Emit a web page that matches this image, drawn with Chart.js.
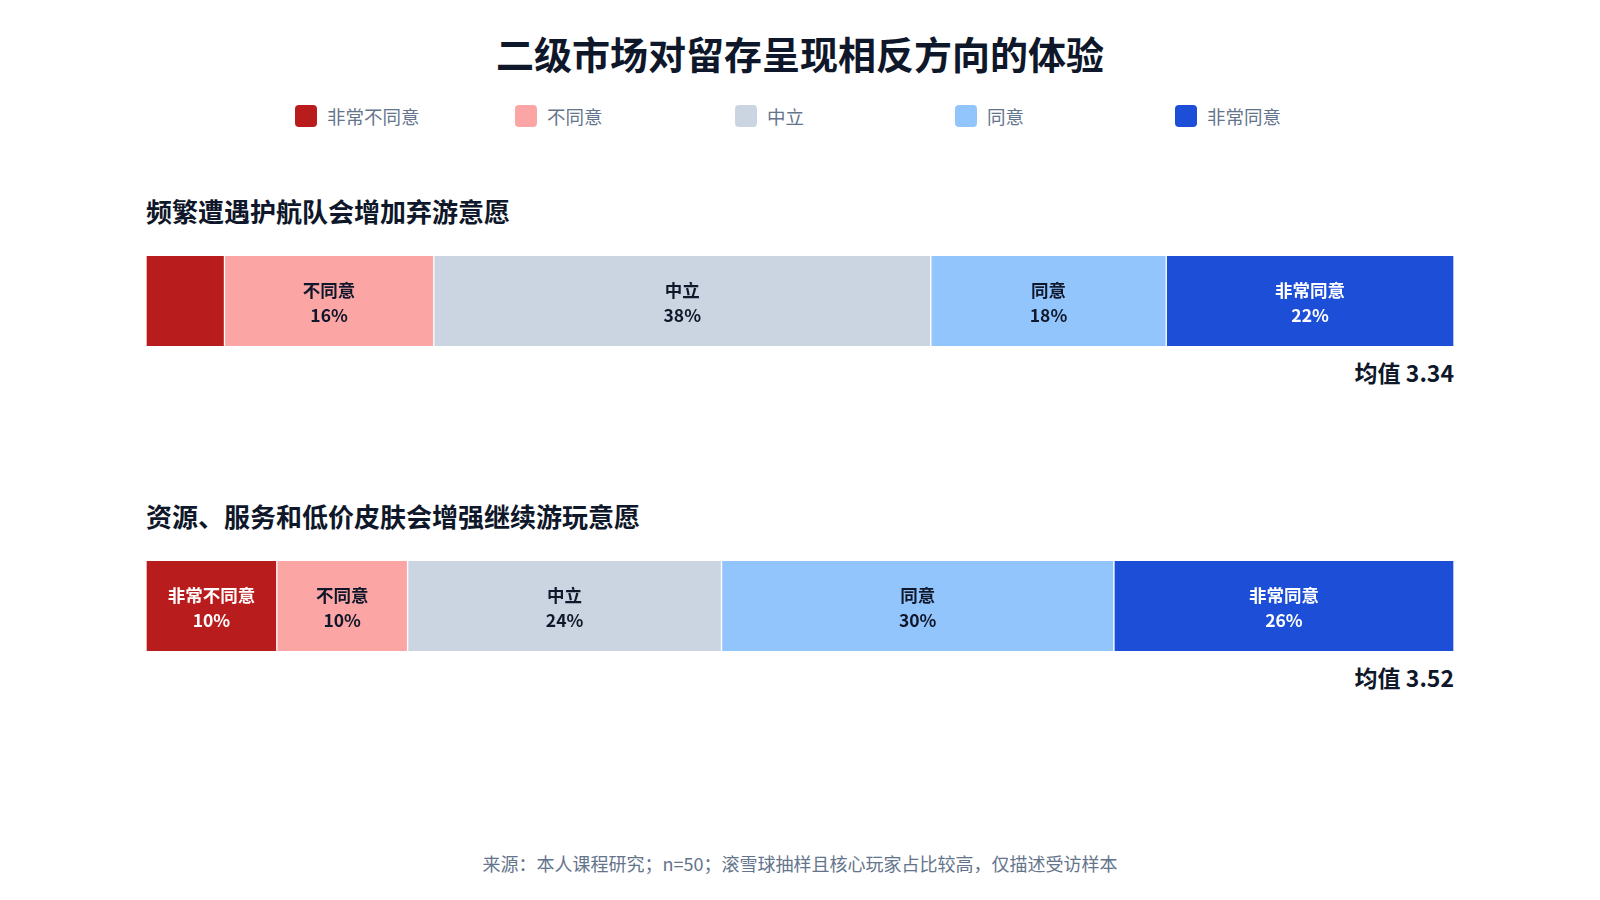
<!DOCTYPE html>
<html><head><meta charset="utf-8">
<script src="https://cdn.jsdelivr.net/npm/chart.js@4/dist/chart.umd.min.js"></script>
<style>
body{margin:0;width:1600px;height:900px;background:#fff;font-family:"Noto Sans CJK SC","Noto Sans",sans-serif;position:relative;overflow:hidden}
.abs{position:absolute}
#title{top:25px;left:0;width:1600px;text-align:center;font-size:38px;font-weight:700;color:#0f172a}
#legend{top:103px;left:295px;display:flex;font-size:18.5px;color:#64748b}
#legend span{display:flex;align-items:center;width:220px}
#legend i{display:inline-block;width:22px;height:22px;border-radius:4px;margin-right:10px}
.sub{left:146px;font-size:26px;font-weight:700;color:#0f172a}
.mean{left:146px;width:1308px;text-align:right;font-size:23px;font-weight:700;color:#0f172a}
.bar{left:146px;width:1308px;height:90px}
#foot{top:850px;left:0;width:1600px;text-align:center;font-size:18px;color:#64748b}
</style></head><body>
<div id="title" class="abs">二级市场对留存呈现相反方向的体验</div>
<div id="legend" class="abs"></div>
<div class="abs sub" style="top:192px">频繁遭遇护航队会增加弃游意愿</div>
<div class="abs bar" style="top:256px"><canvas id="c1"></canvas></div>
<div class="abs mean" style="top:355px">均值 3.34</div>
<div class="abs sub" style="top:497px">资源、服务和低价皮肤会增强继续游玩意愿</div>
<div class="abs bar" style="top:561px"><canvas id="c2"></canvas></div>
<div class="abs mean" style="top:660px">均值 3.52</div>
<div id="foot" class="abs">来源：本人课程研究；n=50；滚雪球抽样且核心玩家占比较高，仅描述受访样本</div>
<script>
const categories = ["非常不同意", "不同意", "中立", "同意", "非常同意"];
const colors = ["#b91c1c", "#fca5a5", "#cbd5e1", "#93c5fd", "#1d4ed8"];
const textColors = ["#ffffff", "#0f172a", "#0f172a", "#0f172a", "#ffffff"];
const series1 = [6, 16, 38, 18, 22];
const series2 = [10, 10, 24, 30, 26];

const lg = document.getElementById("legend");
categories.forEach((c, i) => {
  lg.innerHTML += `<span><i style="background:${colors[i]}"></i>${c}</span>`;
});

const segLabels = {
  id: "segLabels",
  afterDatasetsDraw(chart) {
    const ctx = chart.ctx;
    ctx.save();
    ctx.textAlign = "center";
    ctx.font = "bold 17.5px 'Noto Sans CJK SC'";
    chart.data.datasets.forEach((ds, i) => {
      const el = chart.getDatasetMeta(i).data[0];
      const w = Math.abs(el.x - el.base);
      if (w < 90) return;
      const cx = (el.x + el.base) / 2;
      ctx.fillStyle = textColors[i];
      ctx.fillText(ds.label, cx, el.y - 4);
      ctx.fillText(ds.data[0] + "%", cx, el.y + 21);
    });
    ctx.restore();
  }
};

function makeChart(id, values) {
  new Chart(document.getElementById(id), {
    type: "bar",
    data: {
      labels: [""],
      datasets: categories.map((c, i) => ({
        label: c, data: [values[i]], backgroundColor: colors[i],
        borderColor: "#ffffff", borderWidth: {left: 1, right: 1}, borderSkipped: false,
        barPercentage: 1, categoryPercentage: 1
      }))
    },
    options: {
      indexAxis: "y", responsive: true, maintainAspectRatio: false, animation: false,
      layout: {padding: 0},
      plugins: {legend: {display: false}, tooltip: {enabled: false}},
      scales: {
        x: {stacked: true, min: 0, max: 100, display: false},
        y: {stacked: true, display: false}
      }
    },
    plugins: [segLabels]
  });
}
makeChart("c1", series1);
makeChart("c2", series2);
</script>
</body></html>
